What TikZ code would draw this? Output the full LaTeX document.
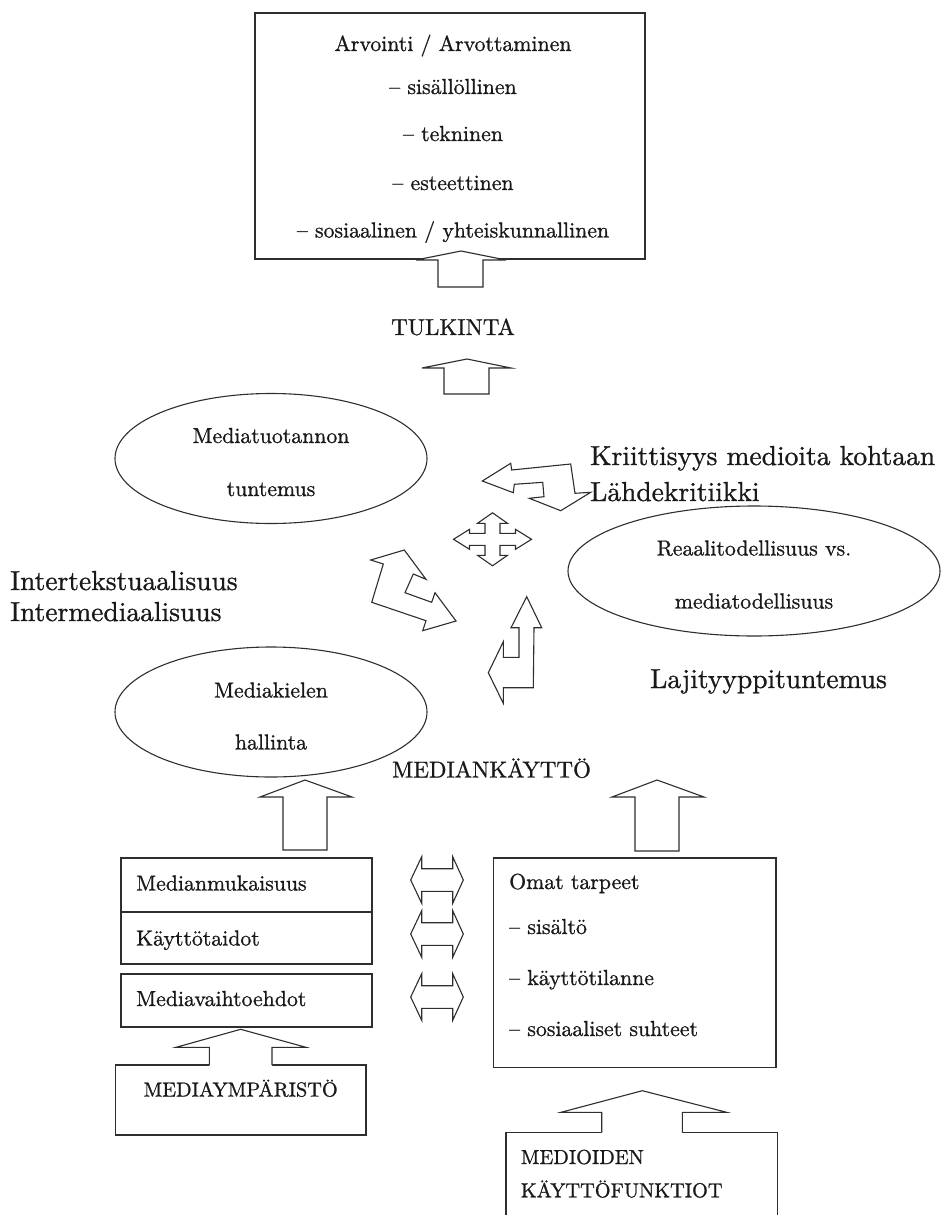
\documentclass[tikz,border=0pt]{standalone}
\usepackage{fontspec}
\setmainfont{lmroman10-regular.otf}[FakeBold=0.9]
\usetikzlibrary{shapes.geometric}
\tikzset{
  outl/.style={draw=black!82,line width=1.1pt,line join=miter},
  blockarrow/.style={outl,fill=white},
  boxtext/.style={inner sep=0pt,font=\fontsize{21.8}{26}\selectfont,text=black!90},
  boxcaps/.style={inner sep=0pt,font=\fontsize{20.3}{24}\selectfont,text=black!90},
  labeltext/.style={inner sep=0pt,font=\fontsize{27.5}{33}\selectfont,text=black!90},
  labelcaps/.style={inner sep=0pt,font=\fontsize{23}{28}\selectfont,text=black!90},
  frame/.style={outl,rectangle,inner sep=0pt},
  oval/.style={outl,ellipse,inner sep=0pt},
}
\begin{document}
\begin{tikzpicture}[x=1pt,y=-1pt]
\useasboundingbox (0,0) rectangle (946,1215);

% evaluation box at the top
\node[frame,minimum width=390pt,minimum height=246pt] (eval) at (450,136) {};
\node[boxtext,anchor=base] (eval1) at (453,51) {Arvointi / Arvottaminen};
\node[boxtext,anchor=base] (eval2) at (453,94) {\textendash\ sisällöllinen};
\node[boxtext,anchor=base] (eval3) at (453,141) {\textendash\ tekninen};
\node[boxtext,anchor=base] (eval4) at (453,190) {\textendash\ esteettinen};
\node[boxtext,anchor=base] (eval5) at (453,237.5) {\textendash\ sosiaalinen / yhteiskunnallinen};

% arrow into the evaluation box
\draw[blockarrow] (438,287) -- (438,260) -- (416,260) -- (461,251) -- (506,260) -- (483,260) -- (483,287) -- cycle;

\node[labelcaps] (interp) at (453,327) {TULKINTA};

\draw[blockarrow] (444,394) -- (444,368) -- (422,368) -- (467,359) -- (511,368) -- (489,368) -- (489,394) -- cycle;

% ovals
\node[oval,minimum width=312pt,minimum height=130pt] (prod) at (271,458.5) {};
\node[boxtext,anchor=base] (prod1) at (271,443) {Mediatuotannon};
\node[boxtext,anchor=base] (prod2) at (271,496) {tuntemus};

\node[oval,minimum width=372pt,minimum height=130pt] (real) at (754,571) {};
\node[boxtext,anchor=base] (real1) at (754,555.5) {Reaalitodellisuus vs.};
\node[boxtext,anchor=base] (real2) at (754,608.5) {mediatodellisuus};

\node[oval,minimum width=312pt,minimum height=130pt] (lang) at (271,712) {};
\node[boxtext,anchor=base] (lang1) at (271,697.5) {Mediakielen};
\node[boxtext,anchor=base] (lang2) at (271,749.5) {hallinta};

% free labels
\node[labeltext,anchor=base west] (crit1) at (590,465) {Kriittisyys medioita kohtaan};
\node[labeltext,anchor=base west] (crit2) at (590,501) {Lähdekritiikki};
\node[labeltext,anchor=base west] (inter1) at (10,590) {Intertekstuaalisuus};
\node[labeltext,anchor=base west] (inter2) at (10,621) {Intermediaalisuus};
\node[labeltext,anchor=base west] (genre) at (650,688) {Lajityyppituntemus};
\node[labelcaps,anchor=base west] (use) at (392,777.5) {MEDIANKÄYTTÖ};

% bent double arrow, upper right
\draw[blockarrow] (482.3,481) -- (510.7,463.3) -- (511.7,470) -- (570.7,464) -- (575,493.3)
  -- (590.7,492.3) -- (560.7,510.7) -- (529.3,498.3) -- (544,496.7) -- (542.7,482.3)
  -- (514.3,484.3) -- (513.3,492.7) -- cycle;

% four-way arrow
\begin{scope}[shift={(492.5,539.3)}]
\draw[blockarrow] (0,-26.5) -- (15,-16) -- (7.5,-16) -- (7.5,-6) -- (23,-6) -- (23,-10)
  -- (39,0) -- (23,10) -- (23,6) -- (7.5,6) -- (7.5,16) -- (15,16) -- (0,26.5)
  -- (-15,16) -- (-7.5,16) -- (-7.5,6) -- (-23,6) -- (-23,10) -- (-39,0) -- (-23,-10)
  -- (-23,-6) -- (-7.5,-6) -- (-7.5,-16) -- (-15,-16) -- cycle;
\end{scope}

% bent double arrow, left
\draw[blockarrow] (383.3,564) -- (370.7,560) -- (404.3,550) -- (426,579.3) -- (413.3,574)
  -- (405,592.7) -- (431.7,602.3) -- (435,592.7) -- (456,621) -- (422.7,630.7)
  -- (426,620.7) -- (371.7,602.3) -- cycle;

% bent double arrow, lower
\draw[blockarrow] (526.7,596.7) -- (541.7,627.7) -- (534,627.7) -- (533.3,687.7) -- (503.3,687.7)
  -- (503.3,703.3) -- (488.3,672.7) -- (503.3,641.7) -- (503.3,657.3) -- (519,657.3)
  -- (519,627.7) -- (511,627.7) -- cycle;

% arrows up into the ovals / media use
\draw[blockarrow] (283,850) -- (283,797) -- (260,797) -- (305,780) -- (352,797) -- (327,797) -- (327,850) -- cycle;
\draw[blockarrow] (635,851) -- (635,797) -- (612,797) -- (657,780) -- (704,797) -- (679,797) -- (679,851) -- cycle;

% left stack
\node[frame,minimum width=251pt,minimum height=54pt] (fit) at (246.5,885) {};
\node[frame,minimum width=251pt,minimum height=52pt] (skill) at (246.5,938) {};
\node[frame,minimum width=251pt,minimum height=53pt] (alt) at (246.5,1000.5) {};
\node[boxtext,anchor=base west] (fitt) at (136,890.5) {Medianmukaisuus};
\node[boxtext,anchor=base west] (skillt) at (136,945.5) {Käyttötaidot};
\node[boxtext,anchor=base west] (altt) at (136,1006) {Mediavaihtoehdot};

% double arrows between the columns
\foreach \c/\n in {880/da1,934/da2,997/da3}{
  \draw[blockarrow] (421.7,\c-11.3) -- (421.7,\c-23.3) -- (410.7,\c) -- (421.7,\c+23.3) -- (421.7,\c+11.3)
    -- (452.7,\c+11.3) -- (452.7,\c+23.3) -- (463.3,\c) -- (452.7,\c-23.3) -- (452.7,\c-11.3) -- cycle;
}

% own needs box
\node[frame,minimum width=282.7pt,minimum height=209.7pt] (needs) at (634.65,962.85) {};
\node[boxtext,anchor=base west] (needs1) at (509,889) {Omat tarpeet};
\node[boxtext,anchor=base west] (needs2) at (509,934) {\textendash\ sisältö};
\node[boxtext,anchor=base west] (needs3) at (509,985) {\textendash\ käyttötilanne};
\node[boxtext,anchor=base west] (needs4) at (509,1036) {\textendash\ sosiaaliset suhteet};

% media environment box with its arrow
\node[frame,minimum width=250.3pt,minimum height=70pt] (env) at (240.85,1100) {};
\node[boxcaps] (envt) at (240.7,1088.3) {MEDIAYMPÄRISTÖ};
\fill[white] (209.3,1066) -- (209.3,1047.3) -- (176,1047.3) -- (240.7,1029.3) -- (306,1047.3) -- (272,1047.3) -- (272,1066) -- cycle;
\draw[outl] (209.3,1065) -- (209.3,1047.3) -- (176,1047.3) -- (240.7,1029.3) -- (306,1047.3) -- (272,1047.3) -- (272,1065);

% media functions box, running off the bottom edge
\coordinate (fnL) at (506,1225);
\coordinate (fnR) at (777.7,1225);
\draw[outl] (fnL) -- (506,1132.7) -- (777.7,1132.7) -- (fnR);
\node[boxcaps,anchor=base west] (fn1) at (520.7,1164) {MEDIOIDEN};
\node[boxcaps,anchor=base west] (fn2) at (520.7,1197.3) {KÄYTTÖFUNKTIOT};
\fill[white] (601.7,1133.7) -- (601.7,1112.3) -- (561,1112.3) -- (642.3,1090.7) -- (726.7,1112.3) -- (682.3,1112.3) -- (682.3,1133.7) -- cycle;
\draw[outl] (601.7,1132.7) -- (601.7,1112.3) -- (561,1112.3) -- (642.3,1090.7) -- (726.7,1112.3) -- (682.3,1112.3) -- (682.3,1132.7);
\end{tikzpicture}
\end{document}
